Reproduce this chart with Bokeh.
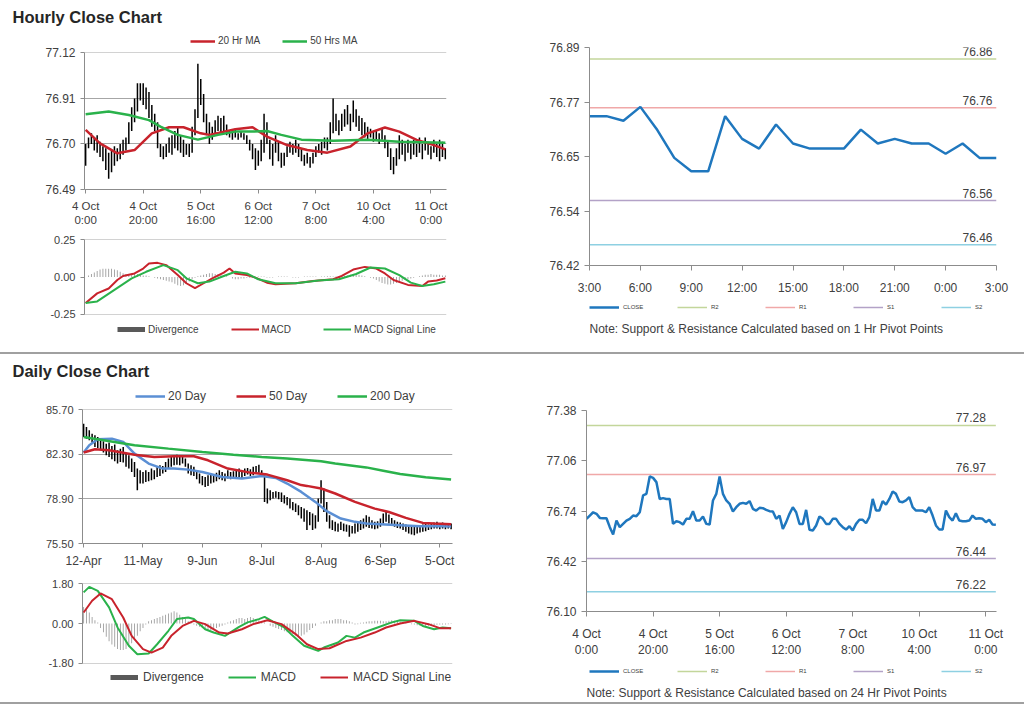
from bokeh.plotting import figure
from bokeh.models import (Range1d, FixedTicker, Legend, LegendItem, Label, Title, Div,
                          NumeralTickFormatter)
from bokeh.layouts import column, row
from bokeh.embed import file_html
from bokeh.resources import INLINE

FONT = "Liberation Sans"
TXT = "#404040"
AXC = "#8c8c8c"
GRIDC = "#a6a6a6"
RED = "#c8232c"
GREEN = "#2ab24b"
BLUE = "#5b8fd4"
CLOSEC = "#1f77be"
R2C, R1C, S1C, S2C = "#c3d69b", "#f0a8a8", "#b3a2c7", "#8ed0e2"
SWATCH = "#595959"
BARC = "#999999"
NAN = float("nan")

# ---------------- Hourly close chart (OHLC high/low) ----------------
hr_labels = ["4 Oct\n0:00", "4 Oct\n20:00", "5 Oct\n16:00", "6 Oct\n12:00",
             "7 Oct\n8:00", "10 Oct\n4:00", "11 Oct\n0:00"]
hr_low = [76.60,76.68,76.70,76.67,76.66,76.64,76.62,76.58,76.54,76.57,
          76.60,76.62,76.63,76.65,76.67,76.70,76.76,76.80,76.85,76.90,
          76.88,76.86,76.82,76.78,76.76,76.68,76.64,76.63,76.64,76.66,
          76.65,76.68,76.67,76.66,76.64,76.65,76.64,76.66,76.74,76.82,
          76.88,76.80,76.74,76.70,76.72,76.75,76.76,76.75,76.76,76.74,
          76.73,76.72,76.73,76.72,76.73,76.72,76.70,76.67,76.63,76.58,
          76.60,76.62,76.66,76.70,76.63,76.60,76.66,76.62,76.59,76.60,
          76.64,76.66,76.65,76.66,76.64,76.62,76.60,76.61,76.59,76.61,
          76.64,76.66,76.65,76.68,76.67,76.70,76.75,76.76,76.74,76.76,
          76.78,76.79,76.76,76.80,76.78,76.76,76.74,76.73,76.72,76.73,
          76.71,76.72,76.70,76.72,76.68,76.64,76.58,76.56,76.60,76.63,
          76.65,76.62,76.66,76.63,76.65,76.64,76.66,76.63,76.67,76.65,
          76.63,76.66,76.64,76.62,76.64,76.63]
hr_high = [76.70,76.73,76.75,76.73,76.74,76.71,76.69,76.68,76.66,76.67,
           76.69,76.68,76.70,76.72,76.73,76.80,76.87,76.91,76.98,76.98,
           76.98,76.96,76.94,76.88,76.84,76.80,76.70,76.69,76.70,76.73,
           76.74,76.76,76.78,76.74,76.72,76.70,76.70,76.78,76.86,77.07,
           77.00,76.93,76.84,76.80,76.78,76.81,76.83,76.82,76.83,76.79,
           76.76,76.76,76.77,76.75,76.76,76.75,76.74,76.72,76.70,76.68,
           76.67,76.72,76.84,76.80,76.72,76.70,76.74,76.71,76.66,76.66,
           76.69,76.71,76.70,76.72,76.70,76.68,76.65,76.66,76.64,76.66,
           76.69,76.70,76.71,76.73,76.73,76.80,76.91,76.84,76.81,76.84,
           76.86,76.88,76.84,76.90,76.86,76.83,76.82,76.80,76.78,76.77,
           76.76,76.76,76.75,76.77,76.74,76.71,76.68,76.64,76.68,76.74,
           76.72,76.70,76.72,76.70,76.72,76.70,76.73,76.70,76.73,76.71,
           76.69,76.72,76.70,76.72,76.71,76.68]
ma20_h_x = [0,5,11,17,23,29,34,40,43,52,58,63,70,77,84,92,98,104,109,115,121,125]
ma20_h = [76.765,76.703,76.657,76.672,76.749,76.777,76.777,76.749,76.742,76.768,76.777,
          76.734,76.695,76.672,76.66,76.688,76.749,76.776,76.757,76.719,76.695,76.675]
ma50_h_x = [0,8,15,22,26,32,39,46,52,58,63,68,75,86,98,109,125]
ma50_h = [76.837,76.85,76.834,76.81,76.78,76.742,76.72,76.742,76.757,76.757,76.76,
          76.742,76.72,76.715,76.72,76.71,76.706]

# ---------------- Hourly MACD ----------------
macd_h_x = [0,4,8,11,13,17,20,22,25,28,32,35,38,41,44,48,50,52,56,59,63,66,73,79,86,89,
            93,97,101,104,107,112,117,119,122,125]
macd_h = [-0.175,-0.11,-0.077,-0.02,0.007,0.024,0.057,0.09,0.095,0.08,0.013,-0.042,-0.075,
          -0.042,-0.009,0.029,0.057,0.024,0.013,-0.004,-0.038,-0.049,-0.042,-0.027,-0.015,
          0.007,0.05,0.068,0.057,0.024,-0.02,-0.053,-0.06,-0.031,-0.024,-0.009]
sig_h_x = [0,4,10,16,21,27,32,35,39,43,48,52,56,60,66,73,81,88,94,99,104,109,113,117,121,125]
sig_h = [-0.175,-0.164,-0.086,-0.009,0.035,0.08,0.046,-0.009,-0.042,-0.031,0.007,0.035,
         0.024,-0.015,-0.042,-0.042,-0.024,-0.015,0.02,0.064,0.057,0.013,-0.038,-0.06,
         -0.049,-0.031]
div_h = [0.0,0.01,0.02,0.03,
         0.04,0.05,0.055,0.055,0.055,0.055,0.05,0.045,0.035,
         0.025,0.02,0.015,0.02,0.025,0.02,0.015,0.01,0.01,0.005,
         0.0,-0.005,-0.01,-0.015,-0.02,-0.025,-0.03,-0.035,
         -0.045,-0.055,-0.06,-0.055,-0.045,-0.03,-0.015,-0.005,
         0.005,0.01,0.015,0.02,0.025,0.025,0.02,0.02,0.015,0.01,
         0.005,0.0,-0.01,-0.015,-0.015,-0.01,-0.01,-0.005,-0.005,0.0,
         0.0,0.003,0.004,0.003,-0.003,-0.004,-0.003,0.0,0.003,0.004,0.004,0.003,0.0,-0.003,
         -0.004,-0.003,0.0,0.003,0.004,0.003,0.004,0.003,0.0,0.003,0.004,0.005,0.005,0.004,
         0.003,0.005,0.006,0.008,
         0.01,0.015,0.02,0.02,0.015,0.01,0.005,0.0,-0.005,-0.01,
         -0.02,-0.03,-0.04,-0.045,-0.05,-0.05,-0.045,-0.04,-0.03,-0.025,-0.02,-0.015,-0.01,
         -0.005,0.0,0.005,
         0.01,0.015,0.015,0.02,0.015,0.015,0.015,0.01,0.01]

# ---------------- 1 Hr pivot chart ----------------
piv1_labels = ["3:00","6:00","9:00","12:00","15:00","18:00","21:00","0:00","3:00"]
piv1_close = [76.742,76.742,76.732,76.762,76.712,76.652,76.623,76.623,76.742,76.693,76.672,
              76.724,76.683,76.672,76.672,76.672,76.713,76.683,76.693,76.683,76.683,76.661,
              76.683,76.652,76.652]
piv1_levels = {"R2": 76.865, "R1": 76.76, "S1": 76.56, "S2": 76.465}
piv1_level_text = {"R2": "76.86", "R1": "76.76", "S1": "76.56", "S2": "76.46"}
piv1_yticks = [76.42, 76.5375, 76.655, 76.7725, 76.89]
piv1_ylabels = ["76.42", "76.54", "76.65", "76.77", "76.89"]

# ---------------- Daily close chart ----------------
day_labels = ["12-Apr","11-May","9-Jun","8-Jul","8-Aug","6-Sep","5-Oct"]
d_high = [84.63,84.38,84.13,83.87,83.75,83.62,83.49,83.29,83.11,83.19,
          82.93,83.04,82.60,82.73,82.86,82.35,82.22,81.97,81.72,81.21,
          81.08,80.95,81.08,80.95,81.21,81.08,81.34,81.46,81.41,81.72,
          81.97,82.10,82.22,82.27,82.10,82.22,81.97,81.59,81.46,81.34,
          81.08,80.83,80.65,80.57,80.70,80.83,80.75,80.90,81.08,80.95,
          80.83,81.08,80.95,81.00,81.08,81.21,81.08,81.21,81.26,81.16,
          81.34,81.41,81.51,81.08,80.70,79.69,79.56,79.43,79.48,79.43,
          79.38,79.18,79.05,78.93,78.67,78.54,78.42,78.29,78.16,78.04,
          77.91,77.78,77.66,78.93,80.32,79.69,78.67,77.66,77.28,77.15,
          77.02,77.15,77.02,76.95,76.90,76.84,77.02,77.15,77.28,77.40,
          77.66,77.53,77.28,77.15,77.20,77.40,77.78,77.91,77.71,77.45,
          77.28,77.15,77.10,77.02,76.95,76.84,76.77,76.77,76.84,76.90,
          76.95,77.02,76.95,77.02,77.10,77.15,77.02,77.10,77.02,77.07,
          77.02]
d_low = [83.62,83.49,83.37,83.19,82.86,82.78,82.60,82.43,82.22,82.10,
         81.92,81.77,81.59,81.72,81.67,81.34,81.21,80.95,80.57,79.56,
         80.07,80.07,80.19,80.24,80.32,80.40,80.57,80.65,80.83,80.95,
         81.21,81.34,81.46,81.51,81.46,81.59,81.34,80.83,80.70,80.65,
         80.40,80.07,79.94,79.81,79.89,80.07,80.14,80.24,80.40,80.32,
         80.24,80.45,80.40,80.50,80.57,80.57,80.50,80.65,80.75,80.65,
         80.70,80.83,80.90,80.57,78.67,78.54,78.80,78.93,78.98,78.88,
         78.67,78.54,78.42,78.16,78.04,77.91,77.66,77.40,77.15,76.52,
         76.90,76.52,76.64,77.15,78.54,77.91,77.15,76.64,76.52,76.44,
         76.39,76.52,76.44,76.39,76.01,76.26,76.26,76.39,76.52,76.64,
         76.77,76.69,76.64,76.59,76.64,76.77,77.02,77.15,77.02,76.84,
         76.77,76.69,76.64,76.52,76.39,76.26,76.18,76.13,76.26,76.34,
         76.39,76.44,76.52,76.59,76.64,76.64,76.59,76.64,76.59,76.64,
         76.59]
ma20_d_x = [0,2,5,10,14,18,23,28,32,37,42,49,56,63,68,72,77,82,86,91,96,100,105,112,119,124,130]
ma20_d = [82.43,82.99,83.44,83.49,83.24,82.35,81.59,81.21,81.21,81.13,80.95,80.57,80.45,
          80.65,80.50,80.07,79.43,78.67,77.96,77.40,77.15,77.02,76.97,76.90,76.82,76.84,76.79]
ma50_d_x = [0,4,9,18,25,32,39,44,51,59,65,72,77,79,84,89,96,103,108,114,120,124,130]
ma50_d = [82.43,82.68,82.60,82.27,82.10,82.15,82.15,81.84,81.21,80.90,80.75,80.32,79.95,
          79.89,79.69,79.31,78.67,78.16,77.90,77.45,77.07,77.02,76.97]
ma200_d_x = [0,18,30,42,53,63,72,84,89,100,106,112,121,130]
ma200_d = [83.62,82.99,82.73,82.48,82.27,82.10,81.97,81.77,81.59,81.30,81.05,80.80,80.55,80.38]

# ---------------- Daily MACD ----------------
macd_d_x = [0,2,5,9,12,16,19,23,26,30,33,37,39,43,46,50,55,58,62,64,67,71,74,78,83,85,90,
            93,96,99,104,109,112,117,120,124,127,130]
macd_d = [1.41,1.66,1.48,0.73,-0.18,-1.01,-1.39,-1.36,-0.94,-0.33,0.20,0.27,0.20,-0.26,
          -0.41,-0.56,-0.15,0.05,0.20,0.30,0.09,-0.18,-0.56,-1.01,-1.24,-1.09,-0.86,-0.56,
          -0.64,-0.41,-0.18,0.05,0.15,0.12,-0.11,-0.26,-0.18,-0.21]
sig_d_x = [0,3,6,10,14,17,21,24,28,31,35,39,43,48,51,56,60,65,70,75,79,83,87,93,98,103,107,
           112,117,122,126,130]
sig_d = [0.50,1.03,1.36,1.10,0.27,-0.56,-1.16,-1.32,-1.09,-0.56,-0.11,0.12,-0.03,-0.41,
         -0.45,-0.26,-0.03,0.15,-0.03,-0.48,-0.94,-1.16,-1.12,-0.79,-0.64,-0.41,-0.18,0.00,
         0.12,-0.03,-0.21,-0.21]
div_d = [0.75,0.65,0.5,0.3,0.15,0.05,
         -0.2,-0.4,-0.6,-0.8,-0.95,-1.05,-1.15,-1.2,-1.2,-1.15,-1.05,-0.9,-0.75,-0.55,-0.35,
         -0.2,-0.05,
         0.1,0.15,0.2,0.25,0.3,0.35,0.4,0.45,0.5,0.55,0.5,0.4,0.3,
         0.2,0.1,0.05,-0.05,-0.1,
         -0.15,-0.2,-0.25,-0.3,-0.3,-0.25,-0.2,-0.15,-0.1,-0.05,
         0.05,0.1,0.15,0.2,0.25,0.25,0.2,0.25,0.3,0.25,0.2,0.15,0.1,0.05,0.0,
         -0.1,-0.15,-0.2,-0.25,-0.3,-0.35,-0.4,-0.45,-0.5,-0.55,-0.6,-0.55,-0.5,-0.4,-0.3,
         -0.2,-0.1,
         0.0,0.05,0.1,0.1,0.15,0.15,0.2,0.2,0.2,0.15,0.15,0.1,0.05,
         -0.05,-0.03,0.03,0.05,0.08,0.1,0.1,0.12,0.12,0.12,0.1,0.1,0.12,0.15,0.12,0.1,0.08,
         0.05,0.03,0.0,-0.03,-0.05,-0.08,
         -0.1,-0.12,-0.12,-0.1,-0.1,-0.08,-0.06,-0.05,-0.05,-0.04,-0.03,-0.02]

# ---------------- 24 Hr pivot chart ----------------
piv24_close = [76.690,76.711,76.732,76.722,76.696,76.694,76.694,76.637,76.590,76.679,
               76.637,76.658,76.679,76.690,76.711,76.707,76.732,76.839,76.849,76.960,
               76.951,76.924,76.817,76.822,76.817,76.817,76.658,76.675,76.669,76.654,
               76.690,76.690,76.739,76.679,76.679,76.705,76.658,76.654,76.807,76.849,
               76.960,76.849,76.807,76.786,76.737,76.764,76.786,76.792,76.786,76.803,
               76.754,76.743,76.760,76.758,76.747,76.739,76.737,76.690,76.711,76.626,
               76.669,76.722,76.764,76.732,76.658,76.658,76.747,76.620,76.616,76.648,
               76.705,76.690,76.658,76.658,76.690,76.690,76.658,76.637,76.622,76.643,
               76.616,76.658,76.684,76.684,76.662,76.701,76.817,76.743,76.743,76.803,
               76.781,76.817,76.864,76.849,76.800,76.796,76.807,76.828,76.764,76.743,
               76.743,76.743,76.732,76.764,76.711,76.648,76.622,76.622,76.743,76.701,
               76.679,76.726,76.679,76.675,76.675,76.679,76.711,76.690,76.694,76.690,
               76.669,76.684,76.654,76.652]
piv24_levels = {"R2": 77.285, "R1": 76.972, "S1": 76.437, "S2": 76.225}
piv24_level_text = {"R2": "77.28", "R1": "76.97", "S1": "76.44", "S2": "76.22"}
piv24_yticks = [76.10, 76.42, 76.74, 77.06, 77.38]
level_colors = {"R2": R2C, "R1": R1C, "S1": S1C, "S2": S2C}

LEFT_W, RIGHT_W = 460, 564


def make_fig(w, h, xr, yr, bl, br, bt, bb):
    p = figure(width=w, height=h, x_range=Range1d(*xr), y_range=Range1d(*yr),
               output_backend="svg", toolbar_location=None, tools="",
               min_border_left=bl, min_border_right=br, min_border_top=bt,
               min_border_bottom=bb)
    p.outline_line_color = None
    p.background_fill_color = "white"
    p.border_fill_color = "white"
    p.xgrid.visible = False
    p.ygrid.visible = False
    for ax in (p.xaxis[0], p.yaxis[0]):
        ax.axis_line_color = AXC
        ax.major_tick_line_color = AXC
        ax.minor_tick_line_color = None
        ax.major_tick_in = 0
        ax.major_tick_out = 4
        ax.major_label_text_font = FONT
        ax.major_label_text_color = TXT
    return p


def strip_fig(w, h, bl, br, bt=0):
    """A plain strip (no axes) that carries titles, legends and notes."""
    f = figure(width=w, height=h, x_range=Range1d(0, 1), y_range=Range1d(0, 1),
               x_axis_type=None, y_axis_type=None, output_backend="svg",
               toolbar_location=None, tools="", min_border_left=bl, min_border_right=br,
               min_border_top=bt, min_border_bottom=0)
    f.outline_line_color = None
    f.xgrid.visible = False
    f.ygrid.visible = False
    f.background_fill_color = "white"
    f.border_fill_color = "white"
    return f


def strip_legend(f, specs, size, glyph_w, spacing, loc, glyph_h=12, label_w=10, standoff=4):
    items = []
    for label, color, width in specs:
        r = f.line(x=[NAN], y=[NAN], line_color=color, line_width=width)
        items.append(LegendItem(label=label, renderers=[r]))
    lg = Legend(items=items, orientation="horizontal", location=loc,
                label_text_font=FONT, label_text_font_size=size, label_text_color=TXT,
                glyph_width=glyph_w, glyph_height=glyph_h, label_height=glyph_h,
                label_width=label_w, label_standoff=standoff, spacing=spacing,
                padding=0, margin=0, border_line_color=None, background_fill_alpha=0)
    f.add_layout(lg)
    return lg


def strip_text(f, x, y, text, size="12px"):
    f.add_layout(Label(x=x, y=y, x_units="screen", y_units="screen", text=text,
                       text_font=FONT, text_font_size=size, text_color=TXT,
                       text_baseline="middle", text_align="left"))


def strip_title(f, text, offset):
    f.add_layout(Title(text=text, align="left", offset=offset, text_font=FONT,
                       text_font_size="16.5px", text_font_style="bold",
                       text_color="#262626"), "above")


def set_grid(p, ticks):
    p.ygrid.visible = True
    p.ygrid.ticker = FixedTicker(ticks=ticks)
    p.ygrid.grid_line_color = GRIDC
    p.ygrid.grid_line_width = 1


# ===== Hourly: title + legend strip =====
t1 = strip_fig(LEFT_W, 47, 84, 14, bt=30)
strip_title(t1, "Hourly Close Chart", -72)
strip_legend(t1, [("20 Hr MA", RED, 2.5), ("50 Hrs MA", GREEN, 2.5)], "10px", 25, 22,
             (106, 1), glyph_h=10, standoff=3)

# ===== Hourly price =====
hours = list(range(len(hr_low)))
p1 = make_fig(LEFT_W, 185, (-0.4, 125.4), (76.49, 77.122), 84, 14, 5, 43)
p1.yaxis.ticker = FixedTicker(ticks=[76.49, 76.70, 76.91, 77.12])
p1.yaxis.formatter = NumeralTickFormatter(format="0.00")
p1.yaxis.major_label_text_font_size = "12px"
set_grid(p1, [76.70, 76.91, 77.12])
hr_ticks = [20 * i for i in range(len(hr_labels))]
p1.xaxis.ticker = FixedTicker(ticks=hr_ticks)
p1.xaxis.major_label_overrides = dict(zip(hr_ticks, hr_labels))
p1.xaxis.major_label_text_font_size = "11.5px"
p1.xaxis.major_label_standoff = 6
p1.segment(x0=hours, y0=hr_low, x1=hours, y1=hr_high, line_color="black", line_width=1.5)
p1.line(ma20_h_x, ma20_h, line_color=RED, line_width=2.5)
p1.line(ma50_h_x, ma50_h, line_color=GREEN, line_width=2.5)

# ===== Hourly MACD =====
p2 = make_fig(LEFT_W, 90, (-0.4, 125.4), (-0.252, 0.252), 84, 14, 7, 8)
p2.yaxis.ticker = FixedTicker(ticks=[-0.25, 0.0, 0.25])
p2.yaxis.formatter = NumeralTickFormatter(format="0.00")
p2.yaxis.major_label_text_font_size = "11px"
set_grid(p2, [-0.25, 0.25])
p2.xaxis.visible = False
p2.vbar(x=hours, top=div_h, bottom=0, width=0.3, fill_color=BARC, line_color=None)
p2.line(macd_h_x, macd_h, line_color=RED, line_width=2)
p2.line(sig_h_x, sig_h, line_color=GREEN, line_width=2)

l2 = strip_fig(LEFT_W, 30, 84, 14)
strip_legend(l2, [("Divergence", SWATCH, 5), ("MACD", RED, 2), ("MACD Signal Line", GREEN, 2)],
             "10px", 28, 32, (33, 17), glyph_h=12, standoff=3)


def pivot_fig(h, xmax, yr, yticks, ylabels, xticks, xlabels, bl, bt, bb, closes, levels,
              level_text, text_dx, label_sb):
    p = make_fig(RIGHT_W, h, (0, xmax), yr, bl, 28, bt, bb)
    p.yaxis.ticker = FixedTicker(ticks=yticks)
    p.yaxis.major_label_overrides = dict(zip(yticks, ylabels))
    p.yaxis.major_label_text_font_size = "12px"
    p.yaxis.major_tick_out = 5
    p.xaxis.ticker = FixedTicker(ticks=xticks)
    p.xaxis.major_label_overrides = dict(zip(xticks, xlabels))
    p.xaxis.major_label_text_font_size = "12px"
    p.xaxis.major_tick_out = 5
    p.xaxis.major_label_standoff = label_sb
    idx = list(range(len(closes)))
    for key in ["R2", "R1", "S1", "S2"]:
        lv = levels[key]
        p.line([idx[0], idx[-1]], [lv, lv], line_color=level_colors[key], line_width=1.5)
        p.add_layout(Label(x=idx[-1], y=lv, text=level_text[key], x_offset=text_dx, y_offset=3,
                           text_align="right", text_baseline="bottom", text_font=FONT,
                           text_font_size="12px", text_color=TXT))
    p.line(idx, closes, line_color=CLOSEC, line_width=2.5)
    return p


def pivot_strip(h, bl, leg_x, leg_y, note, note_x, note_y):
    f = strip_fig(RIGHT_W, h, bl, 28)
    strip_legend(f, [("CLOSE", CLOSEC, 2.5), ("R2", R2C, 1.5), ("R1", R1C, 1.5),
                     ("S1", S1C, 1.5), ("S2", S2C, 1.5)],
                 "6px", 30, 18, (leg_x, leg_y), glyph_h=8, label_w=36, standoff=4)
    strip_text(f, note_x, note_y, note, size="12px")
    return f


p3 = pivot_fig(297, 24, (76.42, 76.89), piv1_yticks, piv1_ylabels,
               [3 * i for i in range(len(piv1_labels))], piv1_labels,
               129, 47, 32, piv1_close, piv1_levels, piv1_level_text, -4, 10)
l3 = pivot_strip(55, 129, 0, 41,
                 "Note: Support & Resistance Calculated based on 1 Hr Pivot Points", 0, 24)

# ===== Daily: title + legend strip =====
t4 = strip_fig(LEFT_W, 50, 82, 8, bt=29)
strip_title(t4, "Daily Close Chart", -70)
strip_legend(t4, [("20 Day", BLUE, 2.5), ("50 Day", RED, 2.5), ("200 Day", GREEN, 2.5)],
             "12px", 30, 30, (53, 1), glyph_h=12, standoff=3)

# ===== Daily price =====
days = list(range(len(d_low)))
p4 = make_fig(LEFT_W, 166, (-0.4, 130.5), (75.50, 85.712), 82, 8, 5, 27)
p4.yaxis.ticker = FixedTicker(ticks=[75.50, 78.90, 82.30, 85.70])
p4.yaxis.formatter = NumeralTickFormatter(format="0.00")
p4.yaxis.major_label_text_font_size = "11px"
set_grid(p4, [78.90, 82.30, 85.70])
d_ticks = [21 * i for i in range(len(day_labels))]
p4.xaxis.ticker = FixedTicker(ticks=d_ticks)
p4.xaxis.major_label_overrides = dict(zip(d_ticks, day_labels))
p4.xaxis.major_label_text_font_size = "12px"
p4.xaxis.major_label_standoff = 6
p4.segment(x0=days, y0=d_low, x1=days, y1=d_high, line_color="black", line_width=1.5)
p4.line(ma20_d_x, ma20_d, line_color=BLUE, line_width=2.5)
p4.line(ma50_d_x, ma50_d, line_color=RED, line_width=2.5)
p4.line(ma200_d_x, ma200_d, line_color=GREEN, line_width=2.5)

# ===== Daily MACD =====
p5 = make_fig(LEFT_W, 101, (-0.4, 130.5), (-1.812, 1.812), 82, 8, 13, 8)
p5.yaxis.ticker = FixedTicker(ticks=[-1.8, 0.0, 1.8])
p5.yaxis.formatter = NumeralTickFormatter(format="0.00")
p5.yaxis.major_label_text_font_size = "11px"
set_grid(p5, [-1.8, 1.8])
p5.xaxis.visible = False
p5.vbar(x=days, top=div_d, bottom=0, width=0.3, fill_color=BARC, line_color=None)
p5.line(macd_d_x, macd_d, line_color=GREEN, line_width=2)
p5.line(sig_d_x, sig_d, line_color=RED, line_width=2)

l5 = strip_fig(LEFT_W, 31, 82, 8)
strip_legend(l5, [("Divergence", SWATCH, 5), ("MACD", GREEN, 2), ("MACD Signal Line", RED, 2)],
             "12px", 28, 24, (28, 18), glyph_h=12, standoff=5)

p6 = pivot_fig(306, 123.2, (76.10, 77.38), piv24_yticks,
               ["%.2f" % t for t in piv24_yticks], hr_ticks, hr_labels,
               126, 56, 49, piv24_close, piv24_levels, piv24_level_text, -10, 10)
l6 = pivot_strip(42, 126, 3, 27,
                 "Note: Support & Resistance Calculated based on 24 Hr Pivot Points", 0, 10)

sep1 = Div(text="", width=LEFT_W + RIGHT_W, height=2, margin=(0, 0, 0, 0),
           styles={"background-color": "#a0a0a0"})
sep2 = Div(text="", width=LEFT_W + RIGHT_W, height=2, margin=(0, 0, 0, 0),
           styles={"background-color": "#a0a0a0"})

layout = column(row(column(t1, p1, p2, l2), column(p3, l3)), sep1,
                row(column(t4, p4, p5, l5), column(p6, l6)), sep2)
open("out.html", "w").write(file_html(layout, INLINE))
